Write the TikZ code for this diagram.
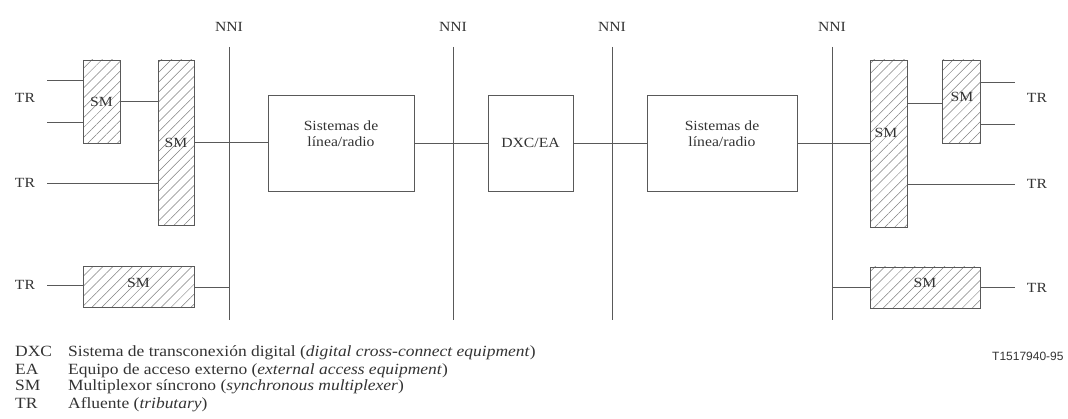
\documentclass[tikz,border=0pt]{standalone}
\usepackage{fontspec}
\setmainfont[FakeStretch=1.12]{Liberation Serif}
\setsansfont{Liberation Sans}
\usepackage{tikz}
\usetikzlibrary{patterns.meta}
\tikzset{
  wire/.style={draw=black!65, line width=0.8pt},
  smbox/.style={wire, inner sep=0, pattern={Lines[angle=45,distance=7pt,line width=0.5pt]}, pattern color=black!50},
  sysbox/.style={wire, inner sep=0, fill=white},
  lbl/.style={inner sep=0, text=black!80, font=\fontsize{14}{16}\selectfont},
  trlab/.style={lbl, minimum width=44pt},
  key/.style={lbl, anchor=base west, font=\fontsize{15.6}{17}\selectfont},
}

\begin{document}
\begin{tikzpicture}[x=1pt, y=-1pt]
  \useasboundingbox (0,0) rectangle (1068,419);
  % interfaces
  \foreach \x/\n in {229/1,453/2,612/3,832/4} {
    \node [lbl] (nni\n) at (\x,27) {NNI};
    \coordinate (nb\n) at (\x,320);
    \draw [wire] (nni\n) ++(0,20) -- (nb\n);
  }
  % left side
  \node [smbox, minimum width=37pt, minimum height=83pt] (smA) at (101.5,101.5) {};
  \node [lbl] at (smA) {SM};
  \node [smbox, minimum width=36pt, minimum height=165pt] (smB) at (176,142.5) {};
  \node [lbl] at (smB) {SM};
  \node [smbox, minimum width=111pt, minimum height=41pt] (smC) at (138.5,287) {};
  \node [lbl] at (138.5,283) {SM};
  \node [trlab] (tr1) at (25,98) {TR};
  \node [trlab] (tr2) at (25,183) {TR};
  \node [trlab] (tr3) at (25,285) {TR};
  \coordinate (ta1) at (47,80);
  \coordinate (ta2) at (47,122);
  \draw [wire] (ta1) -- (ta1 -| smA.west);
  \draw [wire] (ta2) -- (ta2 -| smA.west);
  \draw [wire] (smA.east) -- (smA.east -| smB.west);
  \draw [wire] (tr2.east) -- (tr2.east -| smB.west);
  \draw [wire] (tr3.east) -- (tr3.east -| smC.west);
  \draw [wire] (smC.east) -- (smC.east -| nb1);
  % middle
  \node [sysbox, minimum width=146pt, minimum height=96pt,
         label={[lbl, align=center, yshift=9pt]center:Sistemas de\\línea/radio}] (sys1) at (341,143) {};
  \node [sysbox, lbl, minimum width=85pt, minimum height=96pt] (dxc) at (530.5,143) {DXC/EA};
  \node [sysbox, minimum width=150pt, minimum height=96pt,
         label={[lbl, align=center, yshift=9pt]center:Sistemas de\\línea/radio}] (sys2) at (722,143) {};
  \draw [wire] (smB.east) -- (smB.east -| sys1.west);
  \draw [wire] (sys1.east) -- (dxc.west);
  \draw [wire] (dxc.east) -- (sys2.west);
  % right side
  \node [smbox, minimum width=37pt, minimum height=167pt] (smD) at (888.5,143.5) {};
  \node [lbl] at (886,133) {SM};
  \node [smbox, minimum width=38pt, minimum height=83pt] (smE) at (961,101.5) {};
  \node [lbl] at (962,97) {SM};
  \node [smbox, minimum width=110pt, minimum height=41pt] (smF) at (925,287.5) {};
  \node [lbl] at (925,283) {SM};
  \node [trlab] (tr4) at (1037,98) {TR};
  \node [trlab] (tr5) at (1037,184) {TR};
  \node [trlab] (tr6) at (1037,287.5) {TR};
  \coordinate (tb1) at (1015,82);
  \coordinate (tb2) at (1015,124);
  \draw [wire] (sys2.east) -- (sys2.east -| smD.west);
  \draw [wire] (smD.east |- 0,103) -- (smE.west |- 0,103);
  \draw [wire] (tb1 -| smE.east) -- (tb1);
  \draw [wire] (tb2 -| smE.east) -- (tb2);
  \draw [wire] (tr5.west -| smD.east) -- (tr5.west);
  \draw [wire] (smF.west -| nb4) -- (smF.west);
  \draw [wire] (smF.east) -- (tr6.west);
  % legend
  \node [key] (kDXC) at (15,357) {DXC};
  \node [key] (kEA) at (15,374) {EA};
  \node [key] (kSM) at (15,391) {SM};
  \node [key] (kTR) at (15,408) {TR};
  \node [key] (dDXC) at (68,357) {Sistema de transconexión digital (\textit{digital cross-connect equipment})};
  \node [key] (dEA) at (68,374) {Equipo de acceso externo (\textit{external access equipment})};
  \node [key] (dSM) at (68,391) {Multiplexor síncrono (\textit{synchronous multiplexer})};
  \node [key] (dTR) at (68,408) {Afluente (\textit{tributary})};
  \node [inner sep=0, anchor=base west, font=\sffamily\fontsize{12}{14}\selectfont, text=black!80] (ref) at (992,361) {T1517940-95};
\end{tikzpicture}
\end{document}
